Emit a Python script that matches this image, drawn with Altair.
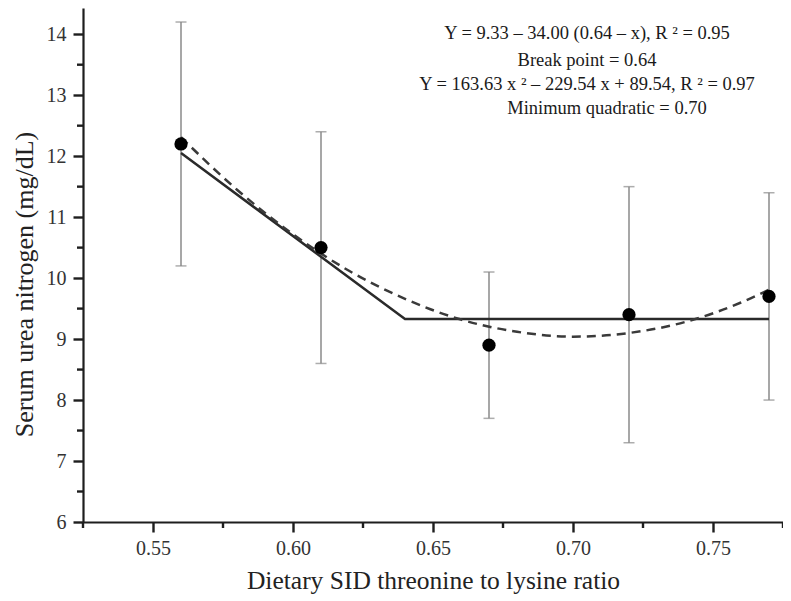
import altair as alt
import pandas as pd

# Observed means and error bar limits
ratio = [0.56, 0.61, 0.67, 0.72, 0.77]
bun_mean = [12.2, 10.5, 8.9, 9.4, 9.7]
bun_low = [10.2, 8.6, 7.7, 7.3, 8.0]
bun_high = [14.2, 12.4, 10.1, 11.5, 11.4]

# Broken-line fit
bp_x = [0.56, 0.64, 0.77]
bp_y = [12.05, 9.33, 9.33]

# Quadratic fit
quad_x = [0.56, 0.58, 0.60, 0.62, 0.64, 0.66, 0.68, 0.70, 0.72, 0.74, 0.76, 0.77]
quad_y = [12.31, 11.45, 10.72, 10.12, 9.66, 9.32, 9.12, 9.04, 9.10, 9.28, 9.60, 9.81]

# Axis ticks (major labelled, minor unlabelled)
x_major = [0.55, 0.60, 0.65, 0.70, 0.75]
x_minor = [0.525, 0.575, 0.625, 0.675, 0.725, 0.775]
y_major = [6, 7, 8, 9, 10, 11, 12, 13, 14]
y_minor = [6.5, 7.5, 8.5, 9.5, 10.5, 11.5, 12.5, 13.5]

annot_lines = [
    "Y = 9.33 \u2013 34.00 (0.64 \u2013 x), R \u00b2 = 0.95",
    "Break point = 0.64",
    "Y = 163.63 x \u00b2 \u2013 229.54 x + 89.54, R \u00b2 = 0.97",
    "Minimum quadratic = 0.70",
]

FONT = "Liberation Serif"
AXIS_COLOR = "#1e1e1e"

obs = pd.DataFrame({"x": ratio, "y": bun_mean, "lo": bun_low, "hi": bun_high})
bp = pd.DataFrame({"x": bp_x, "y": bp_y})
quad = pd.DataFrame({"x": quad_x, "y": quad_y})
xminor_df = pd.DataFrame({"x": x_minor})
yminor_df = pd.DataFrame({"y": y_minor})

x_scale = alt.Scale(domain=[0.525, 0.775], nice=False, zero=False)
y_scale = alt.Scale(domain=[6, 14.43], nice=False, zero=False)

common_axis = dict(
    labelFont=FONT,
    titleFont=FONT,
    labelFontSize=20,
    titleFontWeight="normal",
    labelColor="#333333",
    titleColor="#222222",
    domainColor=AXIS_COLOR,
    tickColor=AXIS_COLOR,
    domainWidth=2.2,
    tickWidth=2.4,
    tickSize=10,
    labelOverlap=False,
    labelFlush=False,
    grid=False,
)

x_axis = alt.Axis(
    title="Dietary SID threonine to lysine ratio",
    values=x_major,
    format=".2f",
    titlePadding=10,
    titleFontSize=25.5,
    labelPadding=6,
    **common_axis,
)
y_axis = alt.Axis(
    title="Serum urea nitrogen (mg/dL)",
    values=y_major,
    format="d",
    titlePadding=9,
    titleFontSize=26,
    titleY=276,
    labelPadding=7,
    **common_axis,
)


def X(field="x"):
    return alt.X(f"{field}:Q", scale=x_scale, axis=x_axis)


def Y(field="y"):
    return alt.Y(f"{field}:Q", scale=y_scale, axis=y_axis)


GRAY = "#8a8a8a"
err = alt.Chart(obs).mark_rule(color=GRAY, strokeWidth=1.5).encode(x=X(), y=Y("lo"), y2="hi:Q")
cap_lo = alt.Chart(obs).mark_tick(color=GRAY, thickness=1.5, size=11, orient="horizontal").encode(
    x=X(), y=Y("lo")
)
cap_hi = alt.Chart(obs).mark_tick(color=GRAY, thickness=1.5, size=11, orient="horizontal").encode(
    x=X(), y=Y("hi")
)

bp_line = alt.Chart(bp).mark_line(color="#2a2a2a", strokeWidth=2.5).encode(x=X(), y=Y())
quad_line = alt.Chart(quad).mark_line(
    color="#3a3a3a", strokeWidth=2.5, strokeDash=[9, 6], interpolate="monotone"
).encode(x=X(), y=Y())

points = alt.Chart(obs).mark_point(filled=True, color="black", opacity=1, size=175).encode(x=X(), y=Y())

# minor ticks, drawn through the same scales
xminor = alt.Chart(xminor_df).mark_rule(color=AXIS_COLOR, strokeWidth=2.4, clip=False).encode(
    x=X(), y=alt.value(514), y2=alt.value(520)
)
yminor = alt.Chart(yminor_df).mark_rule(color=AXIS_COLOR, strokeWidth=2.4, clip=False).encode(
    y=Y(), x=alt.value(-6), x2=alt.value(0)
)

annot_y = [25, 52, 76, 100]
annot_dx = [0, 0, 0, 20]
annots = []
for line, ypix, dx in zip(annot_lines, annot_y, annot_dx):
    annots.append(
        alt.Chart(obs.head(1)).mark_text(
            font=FONT, fontSize=18.5, color="#1a1a1a", align="center", baseline="middle", text=line
        ).encode(x=alt.value(504 + dx), y=alt.value(ypix))
    )

chart = alt.layer(
    err, cap_lo, cap_hi, bp_line, quad_line, points, xminor, yminor, *annots
).properties(
    width=700,
    height=514,
    padding={"left": 75, "top": 0, "right": 0, "bottom": 78},
    autosize=alt.AutoSizeParams(type="none"),
).configure_view(stroke=None)

chart.save("out.html", embed_options={"renderer": "svg", "actions": False})
